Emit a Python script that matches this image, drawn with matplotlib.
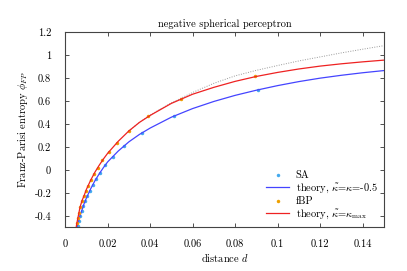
import numpy as np
import matplotlib
matplotlib.use("Agg")
import matplotlib.pyplot as plt

plt.rcParams['font.family'] = ['cmr10', 'DejaVu Serif']
plt.rcParams['mathtext.fontset'] = 'cm'
plt.rcParams['axes.formatter.use_mathtext'] = True

# simulated annealing points
sa_d = [0.0060, 0.0064, 0.0070, 0.0078, 0.0086, 0.0095, 0.0105, 0.0116, 0.0130,
        0.0145, 0.0164, 0.0190, 0.0225, 0.0277, 0.0360, 0.0513, 0.0910]
sa_phi = [-0.488, -0.445, -0.400, -0.355, -0.311, -0.270, -0.227, -0.180, -0.131,
          -0.079, -0.024, 0.043, 0.116, 0.212, 0.325, 0.473, 0.697]

# fBP points
fbp_d = [0.0055, 0.0060, 0.0066, 0.0072, 0.0080, 0.0089, 0.0099, 0.0110, 0.0122,
         0.0138, 0.0153, 0.0175, 0.0205, 0.0242, 0.0300, 0.0388, 0.0544, 0.0896]
fbp_phi = [-0.465, -0.420, -0.372, -0.320, -0.270, -0.227, -0.183, -0.140, -0.087,
           -0.035, 0.020, 0.084, 0.155, 0.238, 0.343, 0.468, 0.619, 0.816]

# theory, kappa_tilde = kappa = -0.5
blue_d = [0.0055, 0.006, 0.007, 0.008, 0.009, 0.010, 0.012, 0.014, 0.016, 0.018,
          0.020, 0.025, 0.030, 0.035, 0.040, 0.050, 0.060, 0.070, 0.080, 0.090,
          0.100, 0.110, 0.120, 0.130, 0.140, 0.150]
blue_phi = [-0.50, -0.47, -0.40, -0.345, -0.29, -0.245, -0.165, -0.095, -0.035, 0.02,
            0.07, 0.165, 0.245, 0.31, 0.365, 0.46, 0.535, 0.597, 0.65, 0.695,
            0.735, 0.77, 0.80, 0.825, 0.847, 0.866]

# theory, kappa_tilde = kappa_max
red_d = [0.0052, 0.0055, 0.006, 0.007, 0.008, 0.009, 0.010, 0.012, 0.014, 0.016,
         0.018, 0.020, 0.025, 0.030, 0.035, 0.040, 0.050, 0.060, 0.070, 0.080,
         0.090, 0.100, 0.110, 0.120, 0.130, 0.140, 0.150]
red_phi = [-0.50, -0.465, -0.42, -0.325, -0.265, -0.22, -0.17, -0.09, -0.02, 0.04,
           0.095, 0.145, 0.25, 0.34, 0.415, 0.475, 0.58, 0.66, 0.72, 0.772,
           0.815, 0.85, 0.88, 0.905, 0.925, 0.942, 0.957]

# dotted continuation
gray_d = [0.030, 0.035, 0.040, 0.045, 0.050, 0.060, 0.070, 0.080, 0.090, 0.100,
          0.110, 0.120, 0.130, 0.140, 0.150]
gray_phi = [0.34, 0.415, 0.477, 0.533, 0.585, 0.675, 0.755, 0.82, 0.868, 0.91,
            0.95, 0.985, 1.02, 1.052, 1.083]

xticks = [0, 0.02, 0.04, 0.06, 0.08, 0.1, 0.12, 0.14]
xlabels = ['0', '0.02', '0.04', '0.06', '0.08', '0.1', '0.12', '0.14']
yticks = [-0.4, -0.2, 0, 0.2, 0.4, 0.6, 0.8, 1, 1.2]
ylabels = ['-0.4', '-0.2', '0', '0.2', '0.4', '0.6', '0.8', '1', '1.2']

fig = plt.figure(figsize=(4.07, 2.71), dpi=100)
ax = fig.add_axes([0.160, 0.161, 0.783, 0.720])

ax.plot(gray_d, gray_phi, color='#999999', lw=0.7, ls=(0, (1, 1.5)))
ax.plot(sa_d, sa_phi, 'o', color='#44aaee', ms=2.5, mew=0, label='SA')
ax.plot(blue_d, blue_phi, color='#4444ff', lw=0.9, label=r'theory, $\tilde{\kappa}$=$\kappa$=-0.5')
ax.plot(fbp_d, fbp_phi, 'o', color='#eea000', ms=2.5, mew=0, label='fBP')
ax.plot(red_d, red_phi, color='#ee2222', lw=0.9, label=r'theory, $\tilde{\kappa}$=$\kappa_{\max}$')

ax.set_xlim(0, 0.15)
ax.set_ylim(-0.5, 1.2)
ax.set_xticks(xticks)
ax.set_xticklabels(xlabels)
ax.set_yticks(yticks)
ax.set_yticklabels(ylabels)
ax.tick_params(direction='in', length=3, width=0.6, top=True, right=True,
               labelsize=7.5, colors='#333333', labelcolor='black')
ax.tick_params(axis='x', pad=9)
ax.tick_params(axis='y', pad=10)
for s in ax.spines.values():
    s.set_linewidth(0.8)
    s.set_color('#444444')

ax.set_title('negative spherical perceptron', fontsize=7.5, pad=4)
ax.set_xlabel(r'distance $d$', fontsize=7.5, labelpad=2)
ax.set_ylabel(r'Franz-Parisi entropy $\phi_{FP}$', fontsize=7.5, labelpad=3)

leg = ax.legend(loc='lower right', frameon=False, fontsize=7.5, handlelength=2.2,
                handletextpad=0.6, labelspacing=0.15, borderaxespad=0.2)

fig.savefig('out.png', dpi=100)
